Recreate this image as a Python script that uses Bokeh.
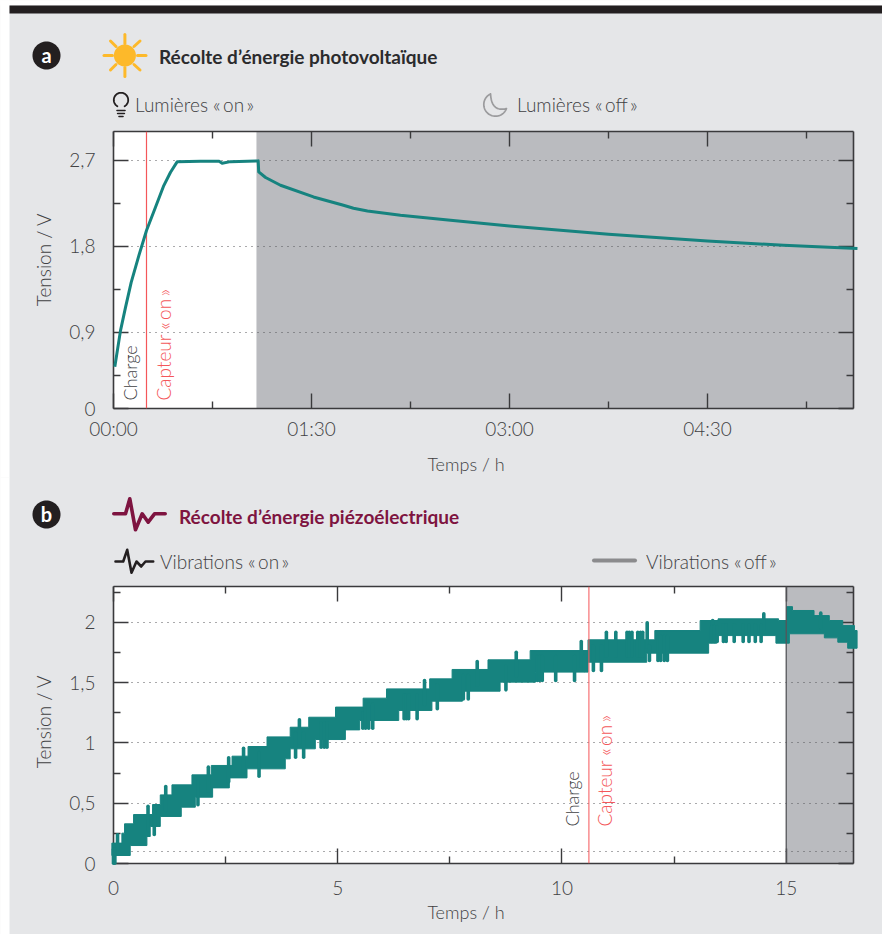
import numpy as np
from bokeh.plotting import figure
from bokeh.layouts import column
from bokeh.models import (Range1d, LinearAxis, FixedTicker, Grid, Span)
from bokeh.core.properties import value
from bokeh.embed import file_html
from bokeh.resources import INLINE

# ---------- data ----------
a_t = [0.01,0.053,0.091,0.134,0.192,0.25,0.318,0.381,0.432,0.483,0.66,0.80,0.823,0.886,1.096,1.10,1.152,1.265,1.515,1.742,1.818,1.924,2.174,2.553,3.0,3.75,4.5,5.076,5.636]
a_v = [0.542,0.919,1.162,1.424,1.703,1.965,2.208,2.435,2.574,2.685,2.69,2.688,2.668,2.685,2.693,2.578,2.519,2.438,2.316,2.229,2.198,2.17,2.125,2.072,2.013,1.926,1.856,1.811,1.777]
a_sensor_on = 0.25
a_lights_off = 1.083
a_xticks = [0, 1.5, 3, 4.5]
a_xminor = [0.75, 2.25, 3.75, 5.25]
a_xlabels = ["00:00", "01:30", "03:00", "04:30"]
a_yticks = [0.105, 0.9, 1.8, 2.7]
a_yminor = [0.45, 1.35, 2.25]
a_ylabels = ["0", "0,9", "1,8", "2,7"]

b_top_t = [-0.036,0.187,0.246,0.447,0.871,1.043,1.303,1.749,2.18,2.643,3.0,3.423,3.94,4.353,4.95,5.566,6.087,7.05,7.55,8.35,9.29,10.58,12.07,13.08,13.48,14.83,15.01,15.14,15.62,15.96,16.26,16.52]
b_top_v = [0.169,0.2515,0.329,0.406,0.489,0.569,0.652,0.735,0.813,0.89,0.97,1.05,1.13,1.213,1.297,1.371,1.448,1.531,1.609,1.689,1.766,1.855,1.932,2.015,2.029,2.015,2.13,2.098,2.056,2.015,1.973,1.932]
b_bot_t = [-0.036,0.373,0.745,0.819,1.043,1.511,1.824,2.21,2.583,2.977,3.83,3.94,4.5,5.17,5.49,6.36,7.1,7.78,8.62,9.41,10.58,11.89,13.27,13.45,14.77,15.07,15.85,16.15,16.37]
b_bot_v = [0.0663,0.149,0.224,0.307,0.39,0.467,0.55,0.627,0.71,0.785,0.868,0.951,1.028,1.108,1.186,1.269,1.346,1.429,1.504,1.587,1.669,1.744,1.827,1.89,1.827,1.905,1.871,1.835,1.785]
b_end = 16.58
b_up_t = [0.09,0.77,1.165,2.115,2.568,2.9,4.145,6.935,8.11,8.98,10.43,10.99,11.2,11.45,11.5,11.56,11.69,11.75,11.8,11.9,13.36,14.5,15.77]
b_up_v = [0.2515,0.489,0.652,0.813,0.89,0.97,1.205,1.531,1.689,1.766,1.855,1.932,1.932,1.932,1.932,1.932,1.932,1.932,1.932,2.01,2.029,2.084,2.09]
b_dn_t = [0.0,0.03,0.909,1.883,3.245,4.06,4.24,4.63,4.7,4.76,5.56,5.62,5.69,5.78,6.48,6.53,6.58,6.77,7.22,7.8,7.91,8.75,9.45,9.5,9.56,9.86,10.28,10.5,10.7,10.88,11.95,12.14,12.2,12.28,12.35,13.34,13.4,13.46,13.6,13.66,13.84,14.04,14.17,14.31,14.44]
b_dn_v = [-0.011,-0.011,0.2267,0.473,0.71,0.868,0.868,0.951,0.951,0.951,1.108,1.108,1.108,1.108,1.186,1.186,1.186,1.186,1.269,1.35,1.35,1.426,1.504,1.504,1.504,1.504,1.504,1.587,1.587,1.587,1.669,1.669,1.669,1.669,1.669,1.827,1.827,1.827,1.827,1.827,1.827,1.827,1.827,1.827,1.827]
b_sensor_on = 10.6
b_vib_off = 15
b_xticks = [0, 5, 10, 15]
b_xminor = [2.5, 7.5, 12.5]
b_xlabels = ["0", "5", "10", "15"]
b_yticks = [0, 0.5, 1, 1.5, 2]
b_yminor = [0.25, 0.75, 1.25, 1.75, 2.25]
b_ylabels = ["0", "0,5", "1", "1,5", "2"]
b_ygrid = [0.1, 0.5, 1, 1.5, 2]

# ---------- style ----------
PANEL = "#e5e6e8"; OFF = "#babbbf"; TEAL = "#16837f"; RED = "#f4575a"
TXT = "#414143"; INK = "#231f20"; WINE = "#7e1440"; SUN = "#fdb92a"; AX = "#3a3a3c"
LIGHT = "Lato Light"; BOLD = "Lato"
LEFT, RIGHT, W = 113, 853, 882

def make(h, top, bottom, xr, yr, xt, xm, xl, yt, ym, yl, grid, y_standoff, x_standoff, page_top):
    p = figure(width=W, height=h, output_backend="svg", toolbar_location=None,
               x_range=Range1d(*xr), y_range=Range1d(*yr), x_axis_location=None, y_axis_location=None,
               min_border_left=LEFT, min_border_right=W-RIGHT, min_border_top=top, min_border_bottom=bottom,
               background_fill_color="white", border_fill_color=PANEL, outline_line_color=None)
    p.grid.visible = False
    def style(ax, labels=None, so=0):
        ax.axis_line_color = AX; ax.axis_line_width = 1.6
        ax.major_tick_line_color = AX; ax.minor_tick_line_color = AX
        ax.major_tick_line_width = 1.4; ax.minor_tick_line_width = 1.4
        ax.major_tick_in = 15; ax.major_tick_out = 0; ax.minor_tick_in = 7; ax.minor_tick_out = 0
        if labels is None:
            ax.major_label_text_font_size = "0px"; ax.major_label_text_color = None
        else:
            ax.major_label_overrides = labels
            ax.major_label_text_font = LIGHT; ax.major_label_text_font_size = "19px"
            ax.major_label_text_color = TXT; ax.major_label_standoff = so
    xtick = FixedTicker(ticks=xt, minor_ticks=xm); ytick = FixedTicker(ticks=yt, minor_ticks=ym)
    bottom_ax = LinearAxis(ticker=xtick); style(bottom_ax, dict(zip(xt, xl)), x_standoff); p.add_layout(bottom_ax, "below")
    left_ax = LinearAxis(ticker=ytick); style(left_ax, dict(zip(yt, yl)), y_standoff); p.add_layout(left_ax, "left")
    top_ax = LinearAxis(ticker=xtick); style(top_ax); p.add_layout(top_ax, "above")
    right_ax = LinearAxis(ticker=ytick); style(right_ax); p.add_layout(right_ax, "right")
    p.add_layout(Grid(dimension=1, ticker=FixedTicker(ticks=grid), grid_line_color="#555558", grid_line_dash="1 5", grid_line_width=1, level="underlay"))
    p.extra_x_ranges["px"] = Range1d(LEFT, RIGHT)
    p.extra_y_ranges["px"] = Range1d(page_top + h - bottom, page_top + top)
    p.quad(left=[0], right=[9], bottom=[page_top + h], top=[page_top], x_range_name="px", y_range_name="px",
           fill_color="white", line_color=None, level="overlay")
    return p

def txt(p, x, y, s, size, color=TXT, font=LIGHT, style="normal", angle=0, align="left", base="middle"):
    p.text([x], [y], text=[s], x_range_name="px", y_range_name="px", level="overlay",
           text_font=value(font), text_font_size=f"{size}px", text_color=color, text_font_style=style,
           angle=angle, text_align=align, text_baseline=base)

def ln(p, xs, ys, color, w, level="overlay"):
    p.line(xs, ys, x_range_name="px", y_range_name="px", level=level, line_color=color, line_width=w,
           line_cap="round", line_join="round")

def disc(p, cx, cy, r, color):
    a = np.radians(np.arange(0, 360, 6))
    p.patch(list(cx + r*np.cos(a)), list(cy + r*np.sin(a)), x_range_name="px", y_range_name="px",
            fill_color=color, line_color=None, level="overlay")

# ---------- panel a ----------
H_A = 478; PT_A = 0
pa = make(H_A, 131, 70, (0, 5.606), (0.105, 3.0), a_xticks, a_xminor, a_xlabels, a_yticks, a_yminor, a_ylabels, a_yticks[1:], 18, 8, PT_A)
pa.quad(left=[a_lights_off], right=[5.606], bottom=[0.105], top=[3.0], fill_color=OFF, line_color=None, level="image")
pa.add_layout(Span(location=a_sensor_on, dimension="height", line_color=RED, line_width=1.2))
pa.line(a_t, a_v, line_color=TEAL, line_width=3, level="overlay", line_join="round")
pa.quad(left=[0], right=[W], bottom=[5], top=[0], x_range_name="px", y_range_name="px", fill_color="white", line_color=None, level="overlay")
pa.quad(left=[9], right=[W], bottom=[13], top=[5], x_range_name="px", y_range_name="px", fill_color=INK, line_color=None, level="overlay")
disc(pa, 46, 55, 14, INK)
txt(pa, 46, 54.5, "a", 20, "white", BOLD, "bold", align="center")
disc(pa, 124.4, 55, 11, SUN)
for x0, y0, x1, y1 in [(103.5,55,112,55),(137,55,145.5,55),(124.4,34,124.4,43),(124.4,67,124.4,76),
                       (110,40.5,115.5,46),(133.5,46,139.5,40.5),(110,69.5,115.5,64),(133.5,64,139.5,69.5)]:
    ln(pa, [x0, x1], [y0, y1], SUN, 3)
txt(pa, 158.5, 56, "Récolte d’énergie photovoltaïque", 19, "#2b2b2d", BOLD, "bold")
th = np.radians(np.linspace(-60, 240, 40))
ln(pa, list(120.5 + 7.2*np.cos(th)), list(99.5 - 7.2*np.sin(th)), INK, 1.8)
for yy, hw in [(110, 4), (113, 3.4), (116, 2)]:
    ln(pa, [120.5-hw, 120.5+hw], [yy, yy], INK, 1.6)
txt(pa, 134.5, 104, "Lumières «\u2009on\u2009»", 19)
o = np.radians(np.linspace(115, 340, 40))
mx = list(495 + 11.7*np.cos(o)); my = list(104 - 11.7*np.sin(o))
s = np.linspace(0, 1, 20)
mx += list((1-s)**2*mx[-1] + 2*s*(1-s)*491 + s**2*mx[0])
my += list((1-s)**2*my[-1] + 2*s*(1-s)*112 + s**2*my[0])
ln(pa, mx, my, "#9b9b9d", 1.7)
txt(pa, 516.5, 104, "Lumières «\u2009off\u2009»", 19)
txt(pa, 43, 259, "Tension / V", 19, angle=np.pi/2, align="center")
txt(pa, 465.5, 463, "Temps / h", 18, align="center")
txt(pa, 129, 400, "Charge", 18, angle=np.pi/2)
txt(pa, 163, 400, "Capteur «\u2009on\u2009»", 19, RED, angle=np.pi/2)

# ---------- panel b ----------
H_B = 457; PT_B = 477
pb = make(H_B, 109, 71, (0, 16.5), (0, 2.297), b_xticks, b_xminor, b_xlabels, b_yticks, b_yminor, b_ylabels, b_ygrid, 18, 17, PT_B)
pb.quad(left=[b_vib_off], right=[16.5], bottom=[0], top=[2.297], fill_color=OFF, line_color=None, level="image")
def step_at(ts, vs, t):
    return vs[max(np.searchsorted(ts, t, side="right") - 1, 0)]
def steps(ts, vs, end):
    xs, ys = [], []
    for k, (t, v) in enumerate(zip(ts, vs)):
        xs += [t, ts[k+1] if k+1 < len(ts) else end]; ys += [v, v]
    return xs, ys
tx, ty = steps(b_top_t, b_top_v, b_end)
bx, by = steps(b_bot_t, b_bot_v, b_end)
pb.patch(tx + bx[::-1], ty + by[::-1], fill_color=TEAL, line_color=TEAL, line_width=1, level="overlay")
R = 0.014
pb.segment(b_up_t, [step_at(b_bot_t, b_bot_v, t) + .05 for t in b_up_t], b_up_t, [v - R for v in b_up_v],
           line_color=TEAL, line_width=3.6, line_cap="round", level="overlay")
pb.segment(b_dn_t, [step_at(b_top_t, b_top_v, t) - .05 for t in b_dn_t], b_dn_t, [v + R for v in b_dn_v],
           line_color=TEAL, line_width=3.6, line_cap="round", level="overlay")
pb.add_layout(Span(location=b_sensor_on, dimension="height", line_color=RED, line_width=1.2, line_alpha=0.85, level="overlay"))
pb.add_layout(Span(location=b_vib_off, dimension="height", line_color="#55555a", line_width=1.3, level="overlay"))
disc(pb, 46, 514, 14, INK)
txt(pb, 46, 513.5, "b", 20, "white", BOLD, "bold", align="center")
ln(pb, [113.3,125,129.3,135,141.7,147.7,154,164.7], [513.3,513.3,498.3,529.3,513.3,521.7,513.3,513.3], WINE, 3.6)
txt(pb, 178.5, 516, "Récolte d’énergie piézoélectrique", 19, WINE, BOLD, "bold")
ln(pb, [115,122.7,126.7,131,136,140.7,145,152.7], [561,561,549.3,572.3,561,566,561,561], INK, 2.6)
txt(pb, 159.5, 561, "Vibrations «\u2009on\u2009»", 19)
ln(pb, [593.5,634.5], [560,560], "#8b8b8d", 4)
txt(pb, 645.5, 561, "Vibrations «\u2009off\u2009»", 19)
txt(pb, 43, 721, "Tension / V", 19, angle=np.pi/2, align="center")
txt(pb, 465.5, 911, "Temps / h", 18, align="center")
txt(pb, 571, 826, "Charge", 18, angle=np.pi/2)
txt(pb, 604, 826, "Capteur «\u2009on\u2009»", 19, RED, angle=np.pi/2)

pb.styles = {"margin-top": "-1px"}
page = column(pa, pb, spacing=0, styles={"margin-bottom": "-8px"})
open("out.html", "w").write(file_html(page, INLINE))
